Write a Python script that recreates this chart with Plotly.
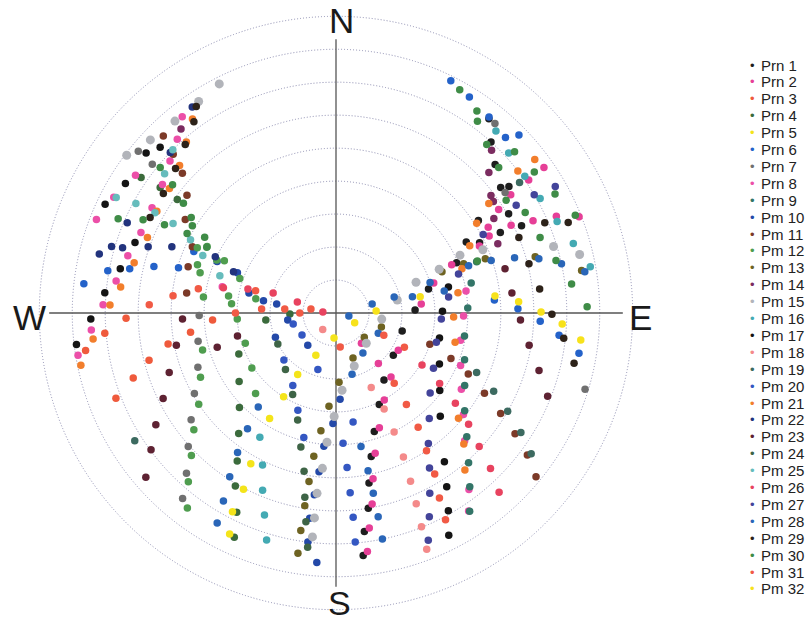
import plotly.graph_objects as go

# ---- data: (azimuth deg, elevation deg) observations per satellite ----
prn01 = [(126.4,68.4),(144.4,65),(154.7,59.3),(162.1,52.2),(166.2,45.2),(169,37.5),(170.6,30),(172.6,23.2),(173.6,16),
         (105.2,69.2),(87.8,66),(75.4,61),(67.4,50.4),(61.4,45),(63.9,41.5),(57,38.5),(63.9,34.5),(60.1,29.6),(52.7,27.2),
         (53.8,25),(47,24),(42.2,20),(38.2,15),(64.8,27.8)]
prn02 = [(139.3,64.4),(151,59.8),(159.3,52.8),(164.4,45.8),(167.4,38.5),(169.3,31),(171.2,24),(172.5,17),(120.8,68),
         (140,78),(140,70),(84,64),(73,59),(67.4,52),(65,42),(60.6,37),(63.3,38),(57.5,31.5),(63.4,30.6),(55.9,26),
         (64.9,24),(55.4,19),(66.3,17),(55,13),(68.4,10.7)]
prn03 = [(266.7,52.5),(262.5,45.5),(259.5,38.2),(255.8,31.5),(252.2,25.4),(248.8,18.4),(268.6,26.3),(265,19.6),(261.5,13.2)]
prn04 = [(247.1,58),(234.7,54),(225.6,49),(218.9,43),(213.7,36),(210.2,29.3),(206.5,22.5),(204.4,15.3),(305.6,30.8),
         (304.8,18),(305.5,24.5),(264.3,68.6),(268.8,76)]
prn05 = [(184.6,82.4),(205.5,75.8),(211.9,68),(212,60),(212.2,52.2),(209.5,37.5),(207.7,29.6),(207.5,22),(205.7,15.6)]
prn06 = [(26.3,11.4),(31.7,13),(38,14.6),(44,16),(45.8,12.6),(85.3,41.8),(88.7,34.8),(92.3,28),(95.7,22),(99.4,15.3),
         (293.4,43),(286,40.3),(284.3,33),(282.1,26),(280.5,19.6),(276.6,13)]
prn07 = [(309.3,12.5),(309,18.3),(40,15),(54.5,27),(269,48.5),(258.4,47.3),(248.6,45),(240.4,40.6),(233.6,35.4),
         (227.9,29.6),(223,23.5),(219.6,17),(107,11)]
prn08 = [(80.4,50),(91.4,51.3),(102.3,51.3),(112.8,49),(121.3,45.5),(128.5,40.6),(134.8,35),(143,23),(146.2,17.7),
         (321.9,14.4),(317.6,18.6),(312.5,21.7),(306.5,24.5),(299.8,25.7),(304.5,16.2),(297.5,14),(291.3,12),(292.4,26),
         (285.4,24.5),(278.3,22.6),(272,19.3),(266,15.6),(260.7,10.7),(283,54.6)]
prn09 = [(70,44.6),(77.5,48),(87.8,50),(100.2,50.4),(110,48.5),(119.4,45.2),(127.2,41),(133.4,35.4),(138.5,29.3),
         (142.4,23.5),(146,17.5)]
prn10 = [(177.3,63.8),(181.6,56.5),(185.2,49.4),(186.1,41.6),(186.8,34.5),(187.3,27.2),(187,20),(184.4,14.1),
         (293.4,50.7),(292.2,57.7),(283,62.9),(279.5,67.7),(278.7,71.8),(261.7,75.2),(248.2,70.2),(221.2,77)]
prn11 = [(108.4,60),(111.6,52.5),(114.8,45.8),(118.4,38.8),(121.4,31.5),(124,24.5),(126.6,17.7),(129.3,11.6),
         (315.7,15),(314.3,21),(312.3,27),(308.3,32.4),(301.8,36.2),(294.8,42),(287.4,43),(277.6,44.3)]
prn12 = [(254.5,48),(244.6,44.5),(236.4,40),(230.6,34.2),(225.4,28.4),(221.2,22),(217.3,15.6),(266.5,60),(251.6,61),
         (236.8,59.5),(225,55.5),(295.2,43.5),(297.3,46),(294,50.4),(295.1,52.6),(289.2,45.5),(286.5,47),(276.9,49.5),
         (279,57),(275,58.2),(289.7,59),(280,65.3)]
prn13 = [(80.2,14.4),(74.2,27.2),(70,41.8),(68.9,48.5),(68.7,55.5),(107,75.6),(130.6,78.7),(159.3,75.4),(177.5,69),
         (184.3,61.6),(187.3,54),(188.8,46),(189.1,38.2),(189.2,30.8),(189.2,23.2),(189,16.2)]
prn14 = [(43.7,21.7),(47.4,27),(52.8,31),(54.7,31.5),(59.1,34.2),(66.8,36.6),(319.9,17)]
prn15 = [(333,12),(327,13.5),(320,14),(313,13),(307,10.5),(76.5,14),(73,21),(66.7,41.5),(65,48.5),(67,56),(69,64),
         (78,71),(97.6,76),(135,77),(161,73),(175.5,66.5),(181,58.6),(184,50.7),(185,42.7),(186,35),(186,27.5),(186,21.7)]
prn16 = [(41.3,16.5),(47.2,18.6),(54.1,19.3),(60.7,19),(67.5,17.4),(73.7,15),(79.7,11.6),(211.5,45.8),(205.8,38.8),
         (202.5,31.8),(199.5,25),(197,18)]
prn17 = [(89,57.7),(77,55),(103.6,57.7),(116.3,55),(126.8,50.7),(134.7,45.5),(143.9,34.2),(147.5,27.5),(150.4,21),
         (153.1,14.4),(313.3,16.7),(310.1,14.7),(301.6,15),(295.2,12.6),(289.3,25.4),(281.6,23.2),(275,19.6),
         (268.6,15.6),(263.1,10.7)]
prn18 = [(219,83.6),(154.7,65),(153.4,57.4),(154,49.8),(154.9,41.8),(156.1,34.2),(157.2,27.2),(158.2,20.2),(159,13.2)]
prn19 = [(112.9,43.7),(116.4,36.6),(119.8,30),(122.9,23.2),(125.8,17),(237.6,17.7),(54.6,21.7)]
prn20 = [(227.9,68.7),(210.8,64.4),(201.4,58.3),(194.5,51),(171.1,56.5),(176.9,50.4),(175.9,43),(175.5,35.3),
         (175.2,27.8),(175.2,20.3),(255.6,76.6),(237,77.7),(197.8,72)]
prn21 = [(92,54.3),(103.8,52.8),(130.7,41),(135.7,34.5),(140.6,28.4),(80.6,52.5),(70.6,49.5),(63.3,44.6),(57.5,39.4),
         (54.4,33),(52,20),(52.3,13.8),(323.5,16.8),(318.8,21.1),(313.3,24.8),(306.8,26.9),(299.6,27.5),(291.8,28.4),
         (284,26.9),(276.9,24.2),(272,21.4),(263.9,15.9),(258.4,11)]
prn22 = [(325.1,13.8),(314.1,20),(293.4,21),(286.5,19),(284,16),(287,22.3),(289.4,29.6),(292,36.3),(295,49.6),(291.9,56.5)]
prn23 = [(75.3,37),(83.5,36.3),(92.2,34),(99.5,30.6),(105.8,26),(111.5,21),(267.8,43.4),(258.6,40.6),(250.4,36.3),
         (243.7,31.5),(238.2,25.7),(233.5,20.2),(229.2,13.8),(253.9,52.5),(256.8,59.3)]
prn24 = [(241.9,70),(221.8,67),(208,62),(199.7,55.5),(194.7,48),(191.4,41),(189.6,33.3),(188.2,26),(186.9,18.4)]
prn25 = [(297.7,14.7),(298.7,20.8),(299,27.2),(298.8,33.6),(296.7,40.6),(293.3,46),(287.8,53),(309.1,23),(315,20)]
prn26 = [(121.2,59.5),(124.2,52),(127.1,44.6),(130,37.5),(133,30.6),(135.2,23.5),(137.7,16.5),(282.6,55),(285.3,62.3),
         (287.6,70),(286,77.8),(274,86)]
prn27 = [(60,13.2),(59.2,20),(59.1,26.3),(61.9,39.4),(72.3,51),(81.9,55.5),(93.3,58),(106.2,58.3),(119.6,56),
         (130.4,52.5),(138.5,47.3),(144.7,41.5),(148.9,35.1),(152.5,28.4),(155.4,22),(157.9,15.6)]
prn28 = [(80.6,13.5),(77.7,20),(75,26.3),(72.8,33.3),(71.3,40.3),(70.4,47.3),(78.5,56.5),(72,60),(78,66.3),(74.6,71.7),
         (76,78.7),(103,86),(115.5,75.8),(146,75.4),(165.3,70.8),(169.4,48.8),(168.5,41.2),(168.3,34.2),(168.3,26.9),
         (168.4,20),(219.6,53),(217.4,45.8),(215.2,38.2),(213,30.8),(210.9,23.5),(209.5,16.8)]
prn29 = [(67.6,30),(75.7,29.6),(83.3,27.8),(90.3,24.5),(96.3,20.5),(101.9,16.2),(66.6,21),(68.7,14.4),(325.9,14.4),
         (323.4,17.7),(318.2,21.4),(312,24.5),(304.7,26.3),(297.2,26.6)]
prn30 = [(309.6,20.8),(308.1,27),(305.7,33),(303.4,37.4),(301.3,39),(298.1,38.8),(293.4,18),(295.8,25),(297.2,31.5),
         (29,12.6),(34.9,15.3),(36.4,17.7),(41.8,21.4),(48.2,23.8),(56.5,28.1),(62,25),(69.7,24),(61.5,14.4),(67.8,11.6),
         (76.6,21.4),(83,18),(88.6,13.8),(54.6,16.2),(47.9,17),(69.8,44.3),(300,44),(297,46)]
prn31 = [(116.6,66.8),(140.4,62.3),(142.4,55),(144.3,47.3),(146.7,40),(148.5,32.7),(150.8,25.7),(152.1,19),(270,59.5),
         (273,67.4),(274.5,74.4),(270,79),(279,82.3),(276,40.3),(280,47.6),(272.5,33.3),(285.4,64.7),(115,74),(173,79.6)]
prn32 = [(96.3,15.3),(92.8,21.3),(89.7,27.8),(86.5,34.5),(83.9,41.5),(79,64),(87,77.8),(117.8,83.6)]

satellites = [prn01, prn02, prn03, prn04, prn05, prn06, prn07, prn08, prn09, prn10, prn11, prn12, prn13, prn14, prn15, prn16,
              prn17, prn18, prn19, prn20, prn21, prn22, prn23, prn24, prn25, prn26, prn27, prn28, prn29, prn30, prn31, prn32]

labels = ["Prn 1", "Prn 2", "Prn 3", "Prn 4", "Prn 5", "Prn 6", "Prn 7", "Prn 8", "Prn 9",
          "Pm 10", "Pm 11", "Pm 12", "Pm 13", "Pm 14", "Pm 15", "Pm 16", "Pm 17", "Pm 18", "Pm 19", "Pm 20",
          "Pm 21", "Pm 22", "Pm 23", "Pm 24", "Pm 25", "Pm 26", "Pm 27", "Pm 28", "Pm 29", "Pm 30", "Pm 31", "Pm 32"]

colors = ["#1e1e1e", "#e63f97", "#ef5a3c", "#3b6b3c", "#f4e41a", "#2462c9", "#707070", "#ec4fa8",
          "#337568", "#2449a8", "#7c3a28", "#4f9d4f", "#6e6322", "#7b2c60", "#b2b4ba", "#44aab3",
          "#141414", "#f48a8a", "#3c6a60", "#3457c2", "#f27e2c", "#22337d", "#5e2232", "#3e6446",
          "#66bcbc", "#e8435f", "#43449a", "#2a66b8", "#2d2219", "#3f8c47", "#f15a45", "#f7e21b"]

elevation_rings = [0, 10, 20, 30, 40, 50, 60, 70, 80]
compass = ["N", "E", "S", "W"]

W, H = 809, 623
FONT = "Liberation Sans, Arial, Helvetica, sans-serif"

fig = go.Figure()

# N-S and E-W axis lines
fig.add_trace(go.Scatterpolar(r=[83, 0, 83], theta=[0, 0, 180], mode="lines",
                              line=dict(color="#555555", width=1.3), showlegend=False, hoverinfo="skip"))
fig.add_trace(go.Scatterpolar(r=[87, 0, 87], theta=[90, 0, 270], mode="lines",
                              line=dict(color="#555555", width=1.3), showlegend=False, hoverinfo="skip"))

for sat, lab, col in zip(satellites, labels, colors):
    az = [p[0] for p in sat]
    el = [p[1] for p in sat]
    fig.add_trace(go.Scatterpolar(
        r=[90 - e for e in el], theta=az, mode="markers", name=lab,
        marker=dict(color=col, size=9 if lab == "Pm 15" else 7.5, line=dict(width=0)),
        showlegend=False))

# manual legend (matches compact spacing of the original)
annotations = []
for i, (lab, col) in enumerate(zip(labels, colors)):
    py = 65 + i * 16.9
    annotations.append(dict(x=752 / W, y=1 - py / H, xref="paper", yref="paper", text="•",
                            showarrow=False, xanchor="center", yanchor="middle",
                            font=dict(size=13, color=col, family=FONT)))
    annotations.append(dict(x=759 / W, y=1 - py / H, xref="paper", yref="paper", text=lab,
                            showarrow=False, xanchor="left", yanchor="middle",
                            font=dict(size=15, color="#222222", family=FONT)))

# compass letters
pos = {"N": (341, 21, "middle"), "E": (640, 317, "middle"), "S": (339, 623, "bottom"), "W": (29, 317, "middle")}
for c in compass:
    px, py, ya = pos[c]
    annotations.append(dict(x=px / W, y=1 - py / H, xref="paper", yref="paper", text=c, showarrow=False,
                            xanchor="center", yanchor=ya, borderpad=0,
                            font=dict(size=34 if c == "S" else 35, color="#1a1a1a", family=FONT)))

cx, cy, R = 336, 313, 300
fig.update_layout(
    width=W, height=H, margin=dict(l=0, r=0, t=0, b=0),
    paper_bgcolor="white", plot_bgcolor="white", showlegend=False,
    annotations=annotations,
    polar=dict(
        domain=dict(x=[(cx - R) / W, (cx + R) / W], y=[(H - cy - R) / H, (H - cy + R) / H]),
        bgcolor="white",
        radialaxis=dict(range=[0, 91], tickvals=[90 - e for e in elevation_rings], showticklabels=False,
                        ticks="", showline=False, gridcolor="#8c8cb0", gridwidth=1, griddash="1px,2px"),
        angularaxis=dict(rotation=90, direction="clockwise", showgrid=False, showline=False,
                         showticklabels=False, ticks=""),
    ),
)

fig.write_html("out.html", config={"displayModeBar": False},
               post_script="document.body.style.margin='0px';")
